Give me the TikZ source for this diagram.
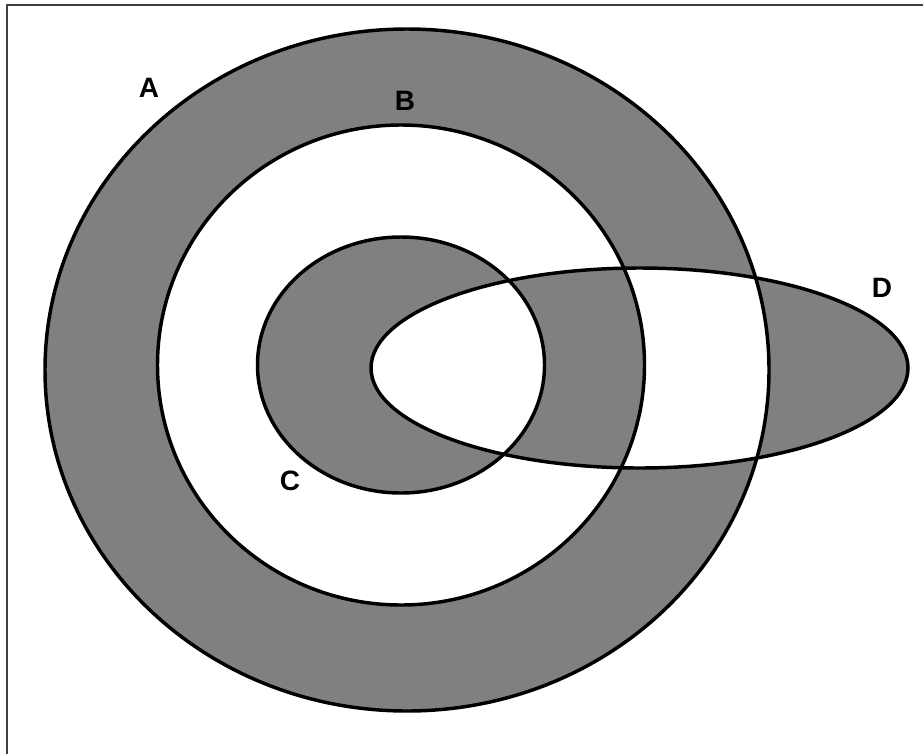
\documentclass[tikz,border=0pt]{standalone}
\usepackage{fontspec}
\setmainfont{Liberation Sans}
\begin{document}
\begin{tikzpicture}[x=0.75pt,y=-0.75pt,
  setline/.style={line width=2.6pt, draw=black},
  lbl/.style={font=\bfseries\fontsize{21}{21}\selectfont, inner sep=0pt}]
\useasboundingbox (0,0) rectangle (923,753);
\fill[white] (0,0) rectangle (923,753);
\draw[line width=1.5pt, draw=black!75] (7,5) rectangle (940,780);
\fill[fill={rgb,255:red,128;green,128;blue,128}, even odd rule]
  (407,370) ellipse [x radius=362, y radius=341]
  (401,365) ellipse [x radius=243.5, y radius=240]
  (401,365) ellipse [x radius=143.5, y radius=128]
  (639.5,368) ellipse [x radius=268.5, y radius=100];
\draw[setline] (407,370) ellipse [x radius=362, y radius=341];
\draw[setline] (401,365) ellipse [x radius=243.5, y radius=240];
\draw[setline] (401,365) ellipse [x radius=143.5, y radius=128];
\draw[setline] (639.5,368) ellipse [x radius=268.5, y radius=100];
\node[lbl] (la) at (149,88) {A};
\node[lbl] (lb) at (405,101) {B};
\node[lbl] (lc) at (290,481) {C};
\node[lbl] (ld) at (882,288) {D};
\end{tikzpicture}
\end{document}
